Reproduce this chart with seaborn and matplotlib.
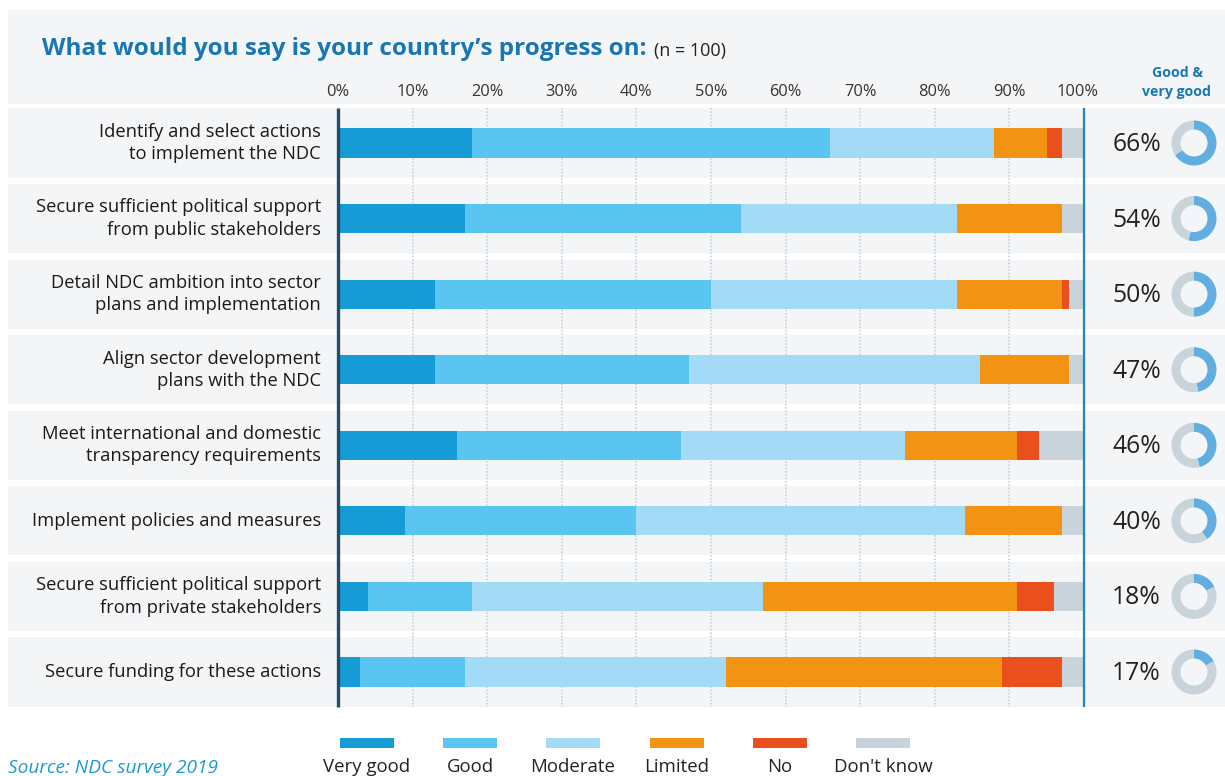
import matplotlib
matplotlib.use("Agg")
import matplotlib.pyplot as plt
import matplotlib.transforms as mtransforms
from matplotlib.patches import Rectangle
import numpy as np
import pandas as pd
import seaborn as sns

# ---------------- data ----------------
categories = [
    "Identify and select actions\nto implement the NDC",
    "Secure sufficient political support\nfrom public stakeholders",
    "Detail NDC ambition into sector\nplans and implementation",
    "Align sector development\nplans with the NDC",
    "Meet international and domestic\ntransparency requirements",
    "Implement policies and measures",
    "Secure sufficient political support\nfrom private stakeholders",
    "Secure funding for these actions",
]
very_good = [18, 17, 13, 13, 16, 9, 4, 3]
good = [48, 37, 37, 34, 30, 31, 14, 14]
moderate = [22, 29, 33, 39, 30, 44, 39, 35]
limited = [7, 14, 14, 12, 15, 13, 34, 37]
no = [2, 0, 1, 0, 3, 0, 5, 8]
dont_know = [3, 3, 2, 2, 6, 3, 4, 3]
good_and_very_good = [66, 54, 50, 47, 46, 40, 18, 17]

series_names = ["Very good", "Good", "Moderate", "Limited", "No", "Don't know"]
series_values = [very_good, good, moderate, limited, no, dont_know]
series_colors = ["#169BD6", "#5BC5F2", "#A3DAF6", "#F39314", "#E9501E", "#C9D3DA"]
tick_values = list(range(0, 101, 10))
tick_labels = [f"{v}%" for v in tick_values]

# ---------------- layout ----------------
W, H = 1225, 776
sns.set_theme(style="white")
plt.rcParams["font.family"] = ["Open Sans", "DejaVu Sans"]

fig = plt.figure(figsize=(W / 100, H / 100), dpi=100)
fig.patch.set_facecolor("white")
ax = fig.add_axes([0, 0, 1, 1])
ax.set_facecolor("none")

px0, px100 = 338, 1084
ppu = (px100 - px0) / 100.0
row0_y, row_step = 143, 75.57
xlim = (-px0 / ppu, (W - px0) / ppu)
ylim = ((H - row0_y) / row_step, -row0_y / row_step)

BAND = "#F4F5F7"
# header band
fig.add_artist(Rectangle((8 / W, 1 - 104 / H), 1 - 8 / W, 94 / H,
                         transform=fig.transFigure, facecolor=BAND, edgecolor="none", zorder=0))

blend = mtransforms.blended_transform_factory(ax.transAxes, ax.transData)
for i in range(len(categories)):
    ax.add_patch(Rectangle((8 / W, i - 0.457), 1 - 8 / W, 0.914, transform=blend,
                           facecolor=BAND, edgecolor="none", zorder=0))

# gridlines
for v in tick_values[1:-1]:
    ax.vlines(v, -0.46, 7.46, colors="#C3CCD4", linestyles=(0, (1, 1.2)), lw=1.1, zorder=1)

# stacked bars (cumulative, drawn largest first)
cum = np.cumsum(np.array(series_values), axis=0)
for k in range(len(series_names) - 1, -1, -1):
    d = pd.DataFrame({"category": categories, "value": cum[k]})
    sns.barplot(data=d, x="value", y="category", orient="h", color=series_colors[k],
                saturation=1, width=0.385, errorbar=None, ax=ax, zorder=2, linewidth=0)

ax.set_xlim(*xlim)
ax.set_ylim(*ylim)
ax.axis("off")

# axis lines
ax.vlines(0, -0.46, 7.46, colors="#1F4E66", lw=2.4, zorder=3)
ax.vlines(100, -0.46, 7.46, colors="#2283C2", lw=1.6, zorder=3)

# tick labels on top
for v, lab in zip(tick_values, tick_labels):
    xo = -0.9 if v == 100 else 0
    ax.text(v + xo, (92 - row0_y) / row_step, lab, ha="center", va="center",
            fontsize=11.8, color="#333333", zorder=4)

# category labels
for i, lab in enumerate(categories):
    ax.text(321 / W, i, lab, transform=blend, ha="right", va="center",
            fontsize=13.2, color="#1A1A1A", linespacing=1.3, zorder=4)

# percentages + donuts
fig.canvas.draw()
for i, pct in enumerate(good_and_very_good):
    ax.text(1161 / W, i + 0.02, f"{pct}%", transform=blend, ha="right", va="center",
            fontsize=17.8, color="#222222", zorder=4)
    yd = ax.transData.transform((0, i))[1]
    r = 22.5
    dax = fig.add_axes([(1194 - r) / W, (yd - r) / H, 2 * r / W, 2 * r / H])
    dax.pie([pct, 100 - pct], colors=["#62AEE0", "#C9D3DA"], startangle=90,
            counterclock=False, wedgeprops=dict(width=0.4, linewidth=0))
    dax.set_xlim(-1.0, 1.0)
    dax.set_ylim(-1.0, 1.0)
    dax.set_aspect("equal")
    dax.axis("off")

# header texts
renderer = fig.canvas.get_renderer()
t = fig.text(42 / W, 1 - 49 / H, "What would you say is your country\u2019s progress on:",
             fontsize=17.5, fontweight="bold", color="#1877B2", va="center", ha="left")
bb = t.get_window_extent(renderer=renderer)
fig.text((bb.x1 + 7) / W, 1 - 51 / H, "(n = 100)", fontsize=13, color="#222222",
         va="center", ha="left")
fig.text(1177 / W, 1 - 73 / H, "Good &", fontsize=10.2, fontweight="bold",
         color="#1877B2", ha="center", va="center")
fig.text(1177 / W, 1 - 92 / H, "very good", fontsize=10.2, fontweight="bold",
         color="#1877B2", ha="center", va="center")

# legend
leg_x = [367, 470, 573, 677, 780, 883]
for cx, name, col in zip(leg_x, series_names, series_colors):
    fig.add_artist(Rectangle(((cx - 27) / W, 1 - 748 / H), 54 / W, 10 / H,
                             transform=fig.transFigure, facecolor=col, edgecolor="none"))
    fig.text(cx / W, 1 - 767 / H, name, fontsize=13.4, color="#222222",
             ha="center", va="center")

fig.text(8 / W, 1 - 768 / H, "Source: NDC survey 2019", fontsize=13.8, style="italic",
         color="#1B9AD6", ha="left", va="center")

fig.savefig("out.png", dpi=100)
